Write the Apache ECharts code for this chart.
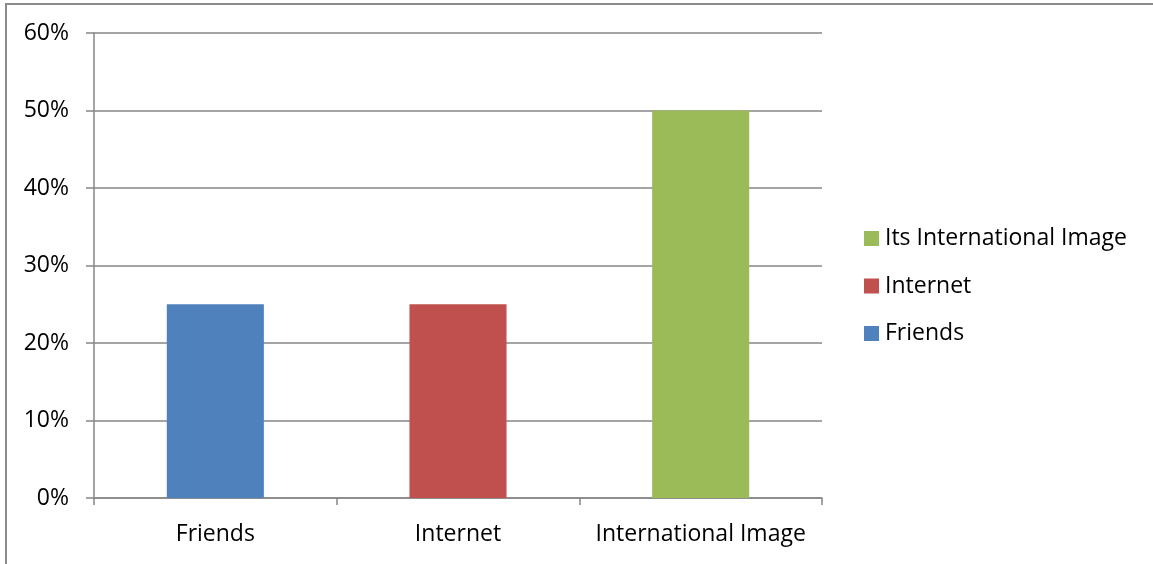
<!DOCTYPE html>
<html>
<head>
<meta charset="utf-8">
<script src="https://cdn.jsdelivr.net/npm/echarts@6/dist/echarts.min.js"></script>
<style>
  html, body { margin: 0; padding: 0; background: #fff; overflow: hidden; }
  #frame { position: absolute; left: 5px; top: 3px; width: 1300px; height: 700px;
           border-left: 2px solid #8c8c8c; border-top: 2px solid #8c8c8c; box-sizing: border-box; }
  #chart { position: absolute; left: 0; top: 0; width: 1153px; height: 564px; }
</style>
</head>
<body>
<div id="frame"></div>
<div id="chart"></div>
<script>
// Categories along the x axis
const categories = ['Friends', 'Internet', 'International Image'];
// One series per source; each has a value only in its own category
const friendsValues = [0.25, '-', '-'];
const internetValues = ['-', 0.25, '-'];
const imageValues = ['-', '-', 0.50];
// Legend order (top to bottom)
const legendOrder = ['Its International Image', 'Internet', 'Friends'];

const FONT = '"Open Sans", Lato, sans-serif';
const FS = 23;
const axisGrey = '#868686';

const chart = echarts.init(document.getElementById('chart'), null, { renderer: 'canvas' });
chart.setOption({
  animation: false,
  backgroundColor: 'transparent',
  textStyle: { fontFamily: FONT },
  grid: { left: 94, right: 331, top: 33, bottom: 66, containLabel: false },
  legend: {
    orient: 'vertical',
    left: 864,
    top: 227,
    padding: 0,
    itemWidth: 15,
    itemHeight: 15,
    itemGap: 24.5,
    icon: 'rect',
    data: legendOrder,
    textStyle: { fontFamily: FONT, fontSize: FS, lineHeight: 20, color: '#000', padding: [0, 0, 0, 1] },
    selectedMode: false
  },
  xAxis: {
    type: 'category',
    data: categories,
    boundaryGap: true,
    axisLine: { lineStyle: { color: axisGrey, width: 1.5 } },
    axisTick: { show: true, length: 7, lineStyle: { color: axisGrey, width: 1.5 } },
    axisLabel: { fontFamily: FONT, fontSize: FS, color: '#000', margin: 25, interval: 0, hideOverlap: false },
    splitLine: { show: false }
  },
  yAxis: {
    type: 'value',
    min: 0,
    max: 0.6,
    interval: 0.1,
    axisLine: { show: true, lineStyle: { color: axisGrey, width: 1.5 } },
    axisTick: { show: true, length: 8, lineStyle: { color: axisGrey, width: 1.5 } },
    axisLabel: {
      fontFamily: FONT, fontSize: FS, color: '#000', margin: 25,
      formatter: v => Math.round(v * 100) + '%'
    },
    splitLine: { show: true, lineStyle: { color: axisGrey, width: 1.5 } }
  },
  series: [
    { name: 'Friends', type: 'bar', stack: 'all', data: friendsValues, barWidth: '40%',
      itemStyle: { color: '#4F81BD' } },
    { name: 'Internet', type: 'bar', stack: 'all', data: internetValues, barWidth: '40%',
      itemStyle: { color: '#C0504D' } },
    { name: 'Its International Image', type: 'bar', stack: 'all', data: imageValues, barWidth: '40%',
      itemStyle: { color: '#9BBB59' } }
  ]
});
</script>
</body>
</html>
